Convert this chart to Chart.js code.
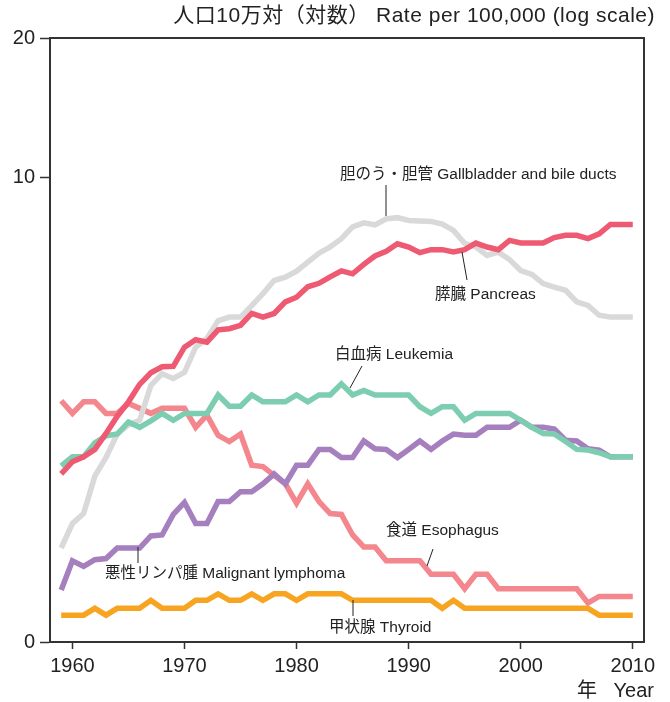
<!DOCTYPE html>
<html>
<head>
<meta charset="utf-8">
<script src="https://cdn.jsdelivr.net/npm/chart.js@4.4.1/dist/chart.umd.min.js"></script>
<style>
  html, body { margin: 0; padding: 0; background: #fff; }
  #wrap { width: 670px; height: 702px; }
</style>
</head>
<body>
<div id="wrap"><canvas id="chart" width="670" height="702"></canvas></div>
<script>
// the axis is log(rate + OFFSET), so 0 can sit on the bottom edge
const OFFSET = 1.4;

const years = [
  1959, 1960, 1961, 1962, 1963, 1964, 1965, 1966, 1967, 1968,
  1969, 1970, 1971, 1972, 1973, 1974, 1975, 1976, 1977, 1978,
  1979, 1980, 1981, 1982, 1983, 1984, 1985, 1986, 1987, 1988,
  1989, 1990, 1991, 1992, 1993, 1994, 1995, 1996, 1997, 1998,
  1999, 2000, 2001, 2002, 2003, 2004, 2005, 2006, 2007, 2008,
  2009, 2010,
];

const gallbladder = [
  0.74, 0.99, 1.10, 1.56, 1.82, 2.18, 2.33, 2.41, 3.06, 3.30,
  3.20, 3.33, 3.90, 4.11, 4.57, 4.67, 4.67, 4.99, 5.35, 5.76,
  5.87, 6.07, 6.38, 6.70, 6.93, 7.25, 7.72, 7.89, 7.80, 8.06,
  8.11, 7.99, 7.97, 7.95, 7.84, 7.58, 7.07, 6.93, 6.62, 6.74,
  6.47, 6.09, 5.96, 5.66, 5.55, 5.45, 5.10, 5.00, 4.72, 4.67,
  4.67, 4.67,
];
const pancreas = [
  1.59, 1.76, 1.83, 1.94, 2.19, 2.48, 2.74, 3.08, 3.32, 3.45,
  3.46, 3.90, 4.08, 4.02, 4.33, 4.36, 4.45, 4.77, 4.67, 4.77,
  5.10, 5.24, 5.56, 5.67, 5.88, 6.08, 5.98, 6.30, 6.60, 6.77,
  7.05, 6.93, 6.72, 6.83, 6.83, 6.75, 6.83, 7.08, 6.93, 6.83,
  7.18, 7.08, 7.08, 7.08, 7.29, 7.38, 7.38, 7.25, 7.44, 7.82,
  7.82, 7.82,
];
const leukemia = [
  1.70, 1.83, 1.83, 2.04, 2.15, 2.18, 2.38, 2.29, 2.40, 2.53,
  2.41, 2.53, 2.53, 2.53, 2.87, 2.66, 2.66, 2.87, 2.74, 2.74,
  2.74, 2.87, 2.74, 2.87, 2.87, 3.09, 2.87, 2.96, 2.87, 2.87,
  2.87, 2.87, 2.65, 2.53, 2.65, 2.65, 2.41, 2.53, 2.53, 2.53,
  2.53, 2.41, 2.29, 2.19, 2.18, 2.06, 1.94, 1.93, 1.89, 1.83,
  1.83, 1.83,
];
const lymphoma = [
  0.37, 0.62, 0.57, 0.63, 0.64, 0.74, 0.74, 0.74, 0.86, 0.87,
  1.09, 1.23, 0.99, 0.99, 1.24, 1.24, 1.36, 1.36, 1.46, 1.59,
  1.46, 1.71, 1.71, 1.94, 1.94, 1.82, 1.82, 2.07, 1.95, 1.94,
  1.82, 1.94, 2.07, 1.94, 2.07, 2.18, 2.16, 2.16, 2.29, 2.29,
  2.29, 2.41, 2.29, 2.29, 2.26, 2.08, 2.07, 1.95, 1.93, 1.83,
  1.83, 1.83,
];
const esophagus = [
  2.76, 2.53, 2.74, 2.74, 2.53, 2.53, 2.71, 2.62, 2.53, 2.62,
  2.62, 2.62, 2.29, 2.50, 2.16, 2.06, 2.18, 1.71, 1.69, 1.57,
  1.46, 1.22, 1.46, 1.24, 1.10, 1.09, 0.87, 0.75, 0.75, 0.62,
  0.62, 0.62, 0.62, 0.50, 0.50, 0.50, 0.38, 0.50, 0.50, 0.38,
  0.38, 0.38, 0.38, 0.38, 0.38, 0.38, 0.38, 0.27, 0.32, 0.32,
  0.32, 0.32,
];
const thyroid = [
  0.18, 0.18, 0.18, 0.23, 0.18, 0.23, 0.23, 0.23, 0.29, 0.23,
  0.23, 0.23, 0.29, 0.29, 0.34, 0.29, 0.29, 0.34, 0.29, 0.34,
  0.34, 0.29, 0.34, 0.34, 0.34, 0.34, 0.29, 0.29, 0.29, 0.29,
  0.29, 0.29, 0.29, 0.29, 0.23, 0.29, 0.23, 0.23, 0.23, 0.23,
  0.23, 0.23, 0.23, 0.23, 0.23, 0.23, 0.23, 0.23, 0.18, 0.18,
  0.18, 0.18,
];

const xTicks = [1960, 1970, 1980, 1990, 2000, 2010];
const yTickValues = [0, 10, 20];
const yTickLabels = ["0", "10", "20"];

const FONT = '"Liberation Sans", "Noto Sans CJK JP", sans-serif';
const INK = "#222";
const AXIS = "#333";

// text labels with their leader lines (canvas pixels)
const seriesLabels = [
  { text: "胆のう・胆管 Gallbladder and bile ducts", x: 340, y: 175, lead: [386, 185, 386, 216] },
  { text: "膵臓 Pancreas", x: 435, y: 295, lead: [467, 280, 462, 252] },
  { text: "白血病 Leukemia", x: 335, y: 355, lead: [362, 366, 350, 388] },
  { text: "食道 Esophagus", x: 386, y: 531, lead: [433, 549, 427, 566] },
  { text: "悪性リンパ腫 Malignant lymphoma", x: 105, y: 574, lead: [138, 547, 138, 563] },
  { text: "甲状腺 Thyroid", x: 329, y: 628, lead: [353, 600, 353, 616] },
];

const toPoints = (vals) => vals.map((v, i) => ({ x: years[i], y: v + OFFSET }));

const line = (label, vals, color) => ({
  label,
  data: toPoints(vals),
  borderColor: color,
  borderWidth: 5.5,
  pointRadius: 0,
  tension: 0,
  borderJoinStyle: "miter",
  fill: false,
});

const decorations = {
  id: "decorations",
  afterDraw(chart) {
    const { ctx, chartArea: a } = chart;
    ctx.save();
    // top and right sides of the frame
    ctx.strokeStyle = AXIS;
    ctx.lineWidth = 2;
    ctx.beginPath();
    ctx.moveTo(a.left, a.top);
    ctx.lineTo(a.right, a.top);
    ctx.lineTo(a.right, a.bottom);
    ctx.stroke();

    ctx.fillStyle = INK;
    ctx.textBaseline = "middle";

    ctx.font = `21px ${FONT}`;
    ctx.letterSpacing = "0.5px";
    ctx.textAlign = "right";
    ctx.fillText("人口10万対（対数） Rate per 100,000 (log scale)", 655, 16);
    ctx.letterSpacing = "0px";

    ctx.font = `20px ${FONT}`;
    ctx.fillText("Year", 654, 691);
    ctx.textAlign = "left";
    ctx.fillText("年", 577, 691);

    ctx.font = `15.5px ${FONT}`;
    ctx.strokeStyle = INK;
    ctx.lineWidth = 1;
    seriesLabels.forEach((l) => {
      ctx.fillText(l.text, l.x, l.y);
      ctx.beginPath();
      ctx.moveTo(l.lead[0], l.lead[1]);
      ctx.lineTo(l.lead[2], l.lead[3]);
      ctx.stroke();
    });
    ctx.restore();
  },
};

new Chart(document.getElementById("chart"), {
  type: "line",
  data: {
    datasets: [
      line("膵臓 Pancreas", pancreas, "#ee5a72"),
      line("白血病 Leukemia", leukemia, "#7dcdb1"),
      line("悪性リンパ腫 Malignant lymphoma", lymphoma, "#a67fbe"),
      line("胆のう・胆管 Gallbladder and bile ducts", gallbladder, "#d9d9d9"),
      line("食道 Esophagus", esophagus, "#f4878d"),
      line("甲状腺 Thyroid", thyroid, "#f7a520"),
    ],
  },
  options: {
    responsive: false,
    animation: false,
    layout: { padding: { left: 0, top: 38, right: 26, bottom: 0 } },
    plugins: { legend: { display: false }, tooltip: { enabled: false } },
    scales: {
      x: {
        type: "linear",
        min: 1958,
        max: 2011,
        afterBuildTicks: (s) => { s.ticks = xTicks.map((v) => ({ value: v })); },
        afterFit: (s) => { s.height = 60; },
        ticks: {
          color: INK,
          font: { family: FONT, size: 20 },
          padding: 5,
          maxRotation: 0,
          callback: (v) => String(v),
        },
        grid: { drawOnChartArea: false, drawTicks: true, tickLength: 7, tickColor: AXIS, tickWidth: 1.5 },
        border: { display: true, color: AXIS, width: 2 },
      },
      y: {
        type: "logarithmic",
        min: yTickValues[0] + OFFSET,
        max: yTickValues[yTickValues.length - 1] + OFFSET,
        afterBuildTicks: (s) => { s.ticks = yTickValues.map((v) => ({ value: v + OFFSET })); },
        afterFit: (s) => { s.width = 50; },
        ticks: {
          color: INK,
          font: { family: FONT, size: 20 },
          padding: 5,
          callback: (v, i) => yTickLabels[i],
        },
        grid: { drawOnChartArea: false, drawTicks: true, tickLength: 10, tickColor: AXIS, tickWidth: 1.5 },
        border: { display: true, color: AXIS, width: 2 },
      },
    },
  },
  plugins: [decorations],
});
</script>
</body>
</html>
